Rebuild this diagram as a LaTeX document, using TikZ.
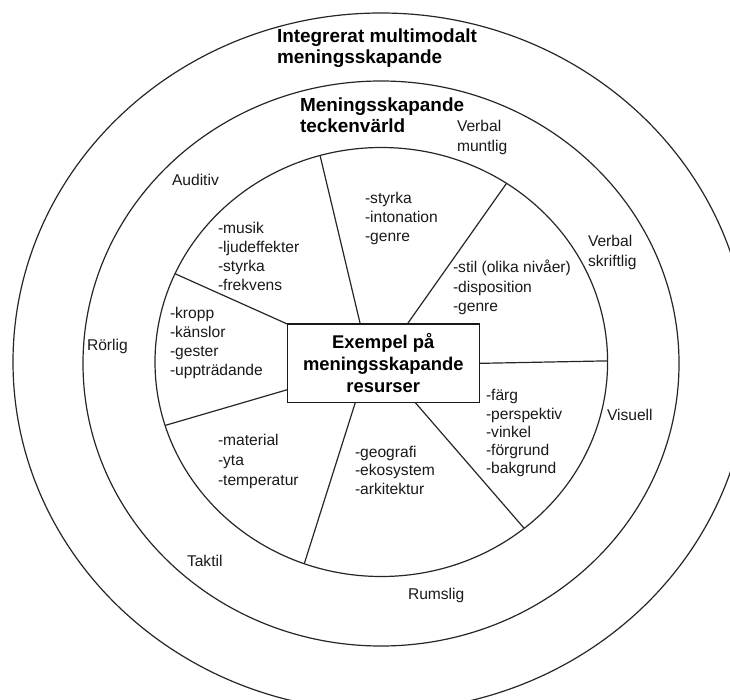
\documentclass[tikz,border=0pt]{standalone}
\usepackage{fontspec}
\setmainfont{Liberation Sans}
\usetikzlibrary{calc}
\begin{document}
\begin{tikzpicture}[x=0.75pt, y=-0.75pt,
  ring/.style={draw=black!85, line width=0.9pt},
  divider/.style={draw=black!85, line width=0.9pt},
  centrebox/.style={draw=black!90, line width=1pt, fill=white, inner sep=0pt, outer sep=0pt,
    minimum width=144pt, minimum height=59pt, align=center,
    font=\fontsize{13.8}{16.6}\selectfont\bfseries},
  lbl/.style={anchor=base west, inner sep=0pt, outer sep=0pt,
    font=\fontsize{11.7}{15}\selectfont, text=black!90},
  lbltwo/.style={anchor=north west, inner sep=0pt, outer sep=0pt, align=left,
    font=\fontsize{11.7}{15}\selectfont, text=black!90},
  items/.style={anchor=north west, inner sep=0pt, outer sep=0pt, align=left,
    font=\fontsize{11.7}{#1}\selectfont, text=black!90},
  items/.default=14.3,
  ttl/.style={anchor=north west, inner sep=0pt, outer sep=0pt, align=left,
    font=\fontsize{14.2}{#1}\selectfont\bfseries},
  ttl/.default=15.6,
]
\useasboundingbox (0,0) rectangle (730,699);
\begin{scope}
  \clip (0,0) rectangle (730,699);
  \draw[ring] (381,362) ellipse [x radius=368, y radius=349];
\end{scope}
\draw[ring] (381,363.5) ellipse [x radius=298, y radius=282.5];
\coordinate (C) at (381.3,362);
\draw[ring] (C) ellipse [x radius=226.3, y radius=214.5];

% centre box
\node[centrebox] (box) at (383.3,363.35) {Exempel på\\meningsskapande\\resurser};

% divider end points on the inner ring
\coordinate (e1) at ($(C)+(204.3:226.3 and 214.5)$);
\coordinate (e2) at ($(C)+(254.3:226.3 and 214.5)$);
\coordinate (e3) at ($(C)+(303.6:226.3 and 214.5)$);
\coordinate (e4) at ($(C)+(359.7:226.3 and 214.5)$);
\coordinate (e5) at ($(C)+(50.85:226.3 and 214.5)$);
\coordinate (e6) at ($(C)+(109.9:226.3 and 214.5)$);
\coordinate (e7) at ($(C)+(162.8:226.3 and 214.5)$);

\draw[divider] (box.north west) -- (e1);
\draw[divider] ($(box.north west)!0.38!(box.north east)$) -- (e2);
\draw[divider] ($(box.north west)!0.625!(box.north east)$) -- (e3);
\draw[divider] (box.east) -- (e4);
\draw[divider] ($(box.south west)!0.667!(box.south east)$) -- (e5);
\draw[divider] ($(box.south west)!0.354!(box.south east)$) -- (e6);
\draw[divider] ($(box.north west)!0.835!(box.south west)$) -- (e7);

% titles
\node[ttl=15.5] (outertitle) at (277,28.8) {Integrerat multimodalt\\meningsskapande};
\node[ttl=15.75] (midtitle) at (300,98.1) {Meningsskapande\\teckenvärld};

% ring labels
\node[lbl] (auditiv) at (172,185) {Auditiv};
\node[lbltwo] (vmuntlig) at (457,120.3) {Verbal\\muntlig};
\node[lbltwo] (vskriftlig) at (588,235.3) {Verbal\\skriftlig};
\node[lbl] (visuell) at (607,420.7) {Visuell};
\node[lbl] (rorlig) at (87,350) {Rörlig};
\node[lbl] (taktil) at (187,566.7) {Taktil};
\node[lbl] (rumslig) at (408,599) {Rumslig};

% sector lists
\node[items=14.2] (audlist) at (218,221.9) {-musik\\-ljudeffekter\\-styrka\\-frekvens};
\node[items=14.3] (vmlist) at (365,192) {-styrka\\-intonation\\-genre};
\node[items=14.4] (vslist) at (453,260.3) {-stil (olika nivåer)\\-disposition\\-genre};
\node[items=14.4] (rolist) at (170,307) {-kropp\\-känslor\\-gester\\-uppträdande};
\node[items=14.9] (talist) at (218,434.6) {-material\\-yta\\-temperatur};
\node[items=13.7] (rulist) at (355,446.3) {-geografi\\-ekosystem\\-arkitektur};
\node[items=13.7] (vilist) at (486,389.6) {-färg\\-perspektiv\\-vinkel\\-förgrund\\-bakgrund};
\end{tikzpicture}
\end{document}
